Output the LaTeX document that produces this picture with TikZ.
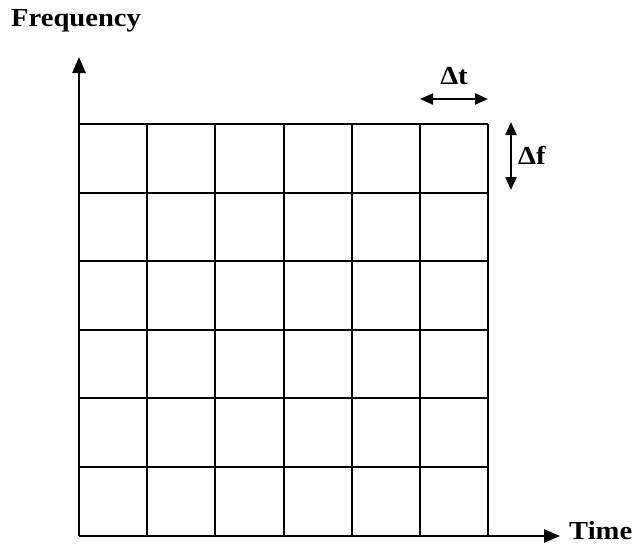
\documentclass[tikz,border=0pt]{standalone}
\usepackage{fontspec}
\setmainfont{Liberation Serif}
\usetikzlibrary{arrows.meta}
\tikzset{
  axis/.style={line width=2.8pt, -{Triangle[length=16pt,width=13pt]}},
  gridline/.style={line width=2pt},
  dim/.style={line width=2.2pt, {Triangle[length=13pt,width=11pt]}-{Triangle[length=13pt,width=11pt]}},
  lbl/.style={font=\fontsize{26}{30}\selectfont\bfseries, inner sep=0pt}
}
\newcommand{\wide}[1]{\scalebox{1.1}[1]{#1}}
\begin{document}
\begin{tikzpicture}[x=1pt,y=-1pt]
\useasboundingbox (0,0) rectangle (638,546);
% grid
\foreach \i in {1,...,6} {
  \draw[gridline] ({79+\i*68.17},124) -- ({79+\i*68.17},535);
}
\foreach \j in {0,...,5} {
  \draw[gridline] (79,{124+\j*68.5}) -- (488,{124+\j*68.5});
}
% axes
\coordinate (O) at (79,536);
\coordinate (ytop) at (79,57);
\coordinate (xend) at (560,536);
\draw[axis] (O) -- (ytop);
\draw[axis] (O) -- (xend);
\node[lbl, anchor=west] (time) at (569,531) {\wide{Time}};
\node[lbl, anchor=west] (freq) at (11,21) {\wide{Frequency}};
% delta t
\coordinate (dtl) at (420,99);
\coordinate (dtr) at (488,99);
\draw[dim] (dtl) -- (dtr);
\node[lbl] (dt) at (454,76) {\wide{Δt}};
% delta f
\coordinate (dft) at (511,122);
\coordinate (dfb) at (511,190);
\draw[dim] (dft) -- (dfb);
\node[lbl, anchor=west] (df) at (518,155) {\wide{Δf}};
\end{tikzpicture}
\end{document}
